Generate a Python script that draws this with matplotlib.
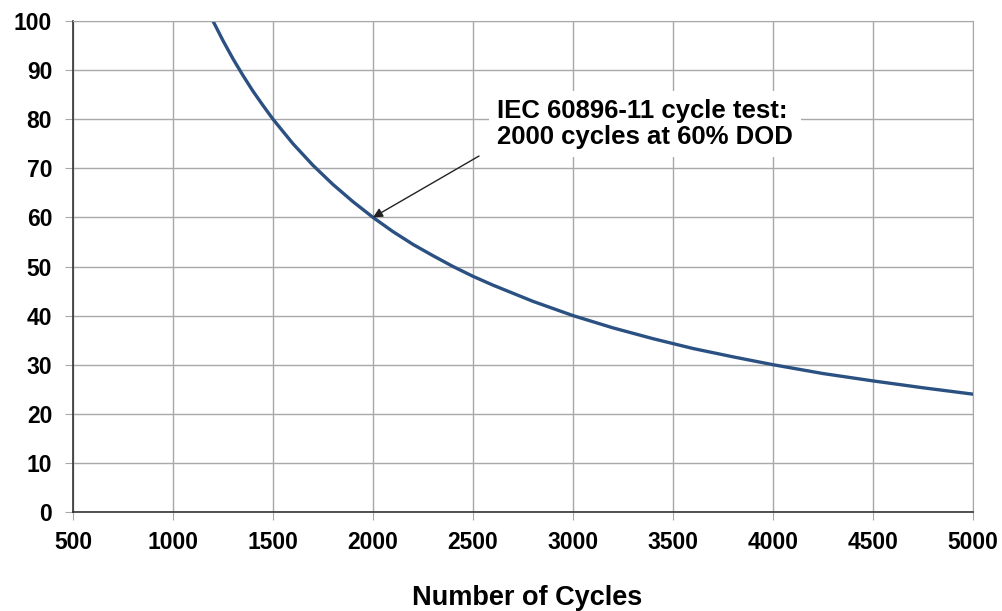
import matplotlib
matplotlib.use("Agg")
import matplotlib.pyplot as plt

# values
cycles = [1200, 1250, 1300, 1350, 1400, 1450, 1500, 1600, 1700, 1800, 1900, 2000,
          2100, 2200, 2300, 2400, 2500, 2600, 2800, 3000, 3200, 3400, 3600, 3800,
          4000, 4250, 4500, 4750, 5000]
dod = [100, 96, 92.3, 88.9, 85.7, 82.8, 80, 75, 70.6, 66.7, 63.2, 60,
       57.1, 54.5, 52.2, 50, 48, 46.2, 42.9, 40, 37.5, 35.3, 33.3, 31.6,
       30, 28.2, 26.7, 25.3, 24]
x_ticks = [500, 1000, 1500, 2000, 2500, 3000, 3500, 4000, 4500, 5000]
y_ticks = [0, 10, 20, 30, 40, 50, 60, 70, 80, 90, 100]
note = "IEC 60896-11 cycle test:\n2000 cycles at 60% DOD"
note_point = (2000, 60)
arrow_tail = (2530, 72.5)

plt.rcParams["font.family"] = ["Liberation Sans", "DejaVu Sans"]
plt.rcParams["font.weight"] = "bold"

fig = plt.figure(figsize=(10.02, 6.11), dpi=100)
ax = fig.add_axes([73 / 1002, 1 - 512 / 611, 900 / 1002, 491 / 611])

ax.plot(cycles, dod, color="#2b5082", linewidth=2.4, solid_joinstyle="round")

ax.set_xlim(500, 5000)
ax.set_ylim(0, 100)
ax.set_xticks(x_ticks)
ax.set_yticks(y_ticks)
ax.grid(True, color="#a8a8a8", linewidth=1.0)
ax.set_axisbelow(True)
for side in ["top", "right"]:
    ax.spines[side].set_color("#a8a8a8")
for side in ["left", "bottom"]:
    ax.spines[side].set_color("#333333")
    ax.spines[side].set_linewidth(1.2)
ax.tick_params(axis="both", length=6, color="#a8a8a8", labelsize=16.5)
ax.tick_params(axis="y", pad=9)
ax.tick_params(axis="x", pad=8)
for lbl in ax.get_xticklabels() + ax.get_yticklabels():
    lbl.set_fontweight("bold")

fig.text(527 / 1002, 6 / 611, "Number of Cycles", fontsize=19.5, fontweight="bold",
         ha="center", va="baseline")

ax.text(2620, 79.0, note, fontsize=18.5, fontweight="bold", ha="left", va="center",
        linespacing=1.12,
        bbox=dict(boxstyle="square,pad=0.3", fc="white", ec="none"))
ax.annotate("", xy=note_point, xytext=arrow_tail,
            arrowprops=dict(arrowstyle="-|>", color="#222222", lw=1.0,
                            mutation_scale=14, shrinkA=0, shrinkB=0))

fig.savefig("out.png", dpi=100)
plt.close(fig)
